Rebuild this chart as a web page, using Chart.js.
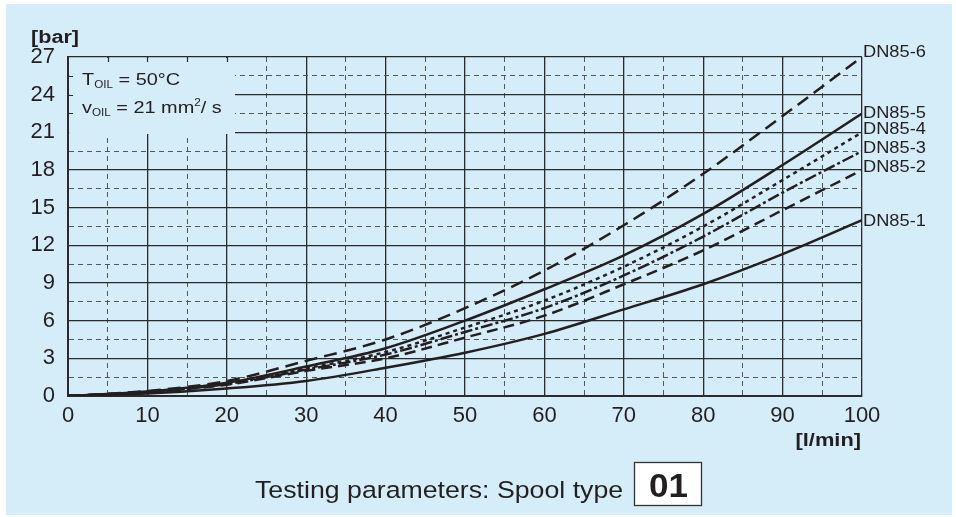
<!DOCTYPE html>
<html>
<head>
<meta charset="utf-8">
<script src="https://cdn.jsdelivr.net/npm/chart.js@4/dist/chart.umd.min.js"></script>
<style>
html,body{margin:0;padding:0;background:#fff;}
canvas{display:block;}
</style>
</head>
<body>
<canvas id="c" width="956" height="517"></canvas>
<script>
// ---- data ----
const flow = [0, 10, 20, 30, 40, 50, 60, 70, 80, 90, 100];          // [l/min]
const seriesNames = ["DN85-6", "DN85-5", "DN85-4", "DN85-3", "DN85-2", "DN85-1"];
const dn85_6 = [0, 0.4, 1.2, 2.8, 4.5, 7.0, 10.0, 13.6, 17.7, 22.3, 27.0];
const dn85_5 = [0, 0.35, 1.05, 2.35, 3.8, 6.0, 8.5, 11.2, 14.5, 18.4, 22.5];
const dn85_4 = [0, 0.33, 1.0, 2.2, 3.5, 5.45, 7.6, 10.3, 13.5, 17.2, 21.0];
const dn85_3 = [0, 0.32, 0.95, 2.1, 3.3, 5.1, 7.0, 9.6, 12.7, 16.2, 19.5];
const dn85_2 = [0, 0.3, 0.9, 2.0, 3.0, 4.65, 6.4, 8.9, 11.6, 14.8, 18.0];
const dn85_1 = [0, 0.2, 0.6, 1.2, 2.25, 3.45, 4.95, 6.9, 8.9, 11.3, 14.0];
const xTickLabels = ["0","10","20","30","40","50","60","70","80","90","100"];
const yTickLabels = ["0","3","6","9","12","15","18","21","24","27"];

// ---- styles ----
const INK = '#231f20';
const BG = '#d5ecf9';
const FONT = '"Liberation Sans", Arial, Helvetica, sans-serif';
const dashes = [[13, 7], [], [4, 4], [12, 3, 3, 3], [11, 6], []];
const labelNudge = [-4.5, 0, -2.5, -3, -2.5, 1];
const allSeries = [dn85_6, dn85_5, dn85_4, dn85_3, dn85_2, dn85_1];

function isMajorX(v){ return Math.abs(v % 10) < 1e-6; }
function isMajorY(v){ return Math.abs(v/3 - Math.round(v/3)) < 1e-6; }

function drawRuns(ctx, x, y, parts, sx, weight){
  let cx = x;
  ctx.fillStyle = INK;
  ctx.textBaseline = 'alphabetic';
  ctx.textAlign = 'left';
  for (const p of parts){
    ctx.font = (weight||'normal') + ' ' + p[1] + 'px ' + FONT;
    ctx.save();
    ctx.translate(cx, y + (p[2]||0));
    ctx.scale(sx, 1);
    ctx.fillText(p[0], 0, 0);
    ctx.restore();
    cx += ctx.measureText(p[0]).width * sx;
  }
}
function drawText(ctx, str, x, y, size, weight, align, sx, baseline){
  ctx.font = (weight||'normal') + ' ' + size + 'px ' + FONT;
  const w = ctx.measureText(str).width * sx;
  let x0 = x;
  if (align === 'right') x0 = x - w; else if (align === 'center') x0 = x - w/2;
  ctx.save();
  ctx.fillStyle = INK;
  ctx.textAlign = 'left';
  ctx.textBaseline = baseline || 'alphabetic';
  ctx.translate(x0, y);
  ctx.scale(sx, 1);
  ctx.fillText(str, 0, 0);
  ctx.restore();
}

const decor = {
  id: 'decor',
  beforeDraw(chart){
    const ctx = chart.ctx;
    ctx.save();
    ctx.fillStyle = '#ffffff';
    ctx.fillRect(0, 0, chart.width, chart.height);
    ctx.fillStyle = BG;
    ctx.fillRect(6, 4, 946, 511);
    ctx.restore();
  },
  beforeDatasetsDraw(chart){
    const ctx = chart.ctx;
    const xs = chart.scales.x, ys = chart.scales.y;
    const L = chart.chartArea.left, T = chart.chartArea.top;
    const boxR = 235, boxB = 134;
    ctx.save();
    ctx.fillStyle = BG;
    ctx.fillRect(L + 1.2, T + 1, boxR - L - 1.2, boxB - T - 1);
    // small ticks that remain along the frame
    ctx.strokeStyle = '#2b2b2b';
    ctx.lineWidth = 1.2;
    ctx.beginPath();
    for (const v of [5, 10, 15, 20]) {
      const px = Math.round(xs.getPixelForValue(v)) + 0.5;
      ctx.moveTo(px, T); ctx.lineTo(px, T + 5);
    }
    for (const v of [25.5, 24, 22.5]) {
      const py = Math.round(ys.getPixelForValue(v)) + 0.5;
      ctx.moveTo(L, py); ctx.lineTo(L + 5, py);
    }
    ctx.stroke();
    ctx.restore();
    // inset text
    drawRuns(ctx, 82, 84.5, [['T',17,0],['OIL',10,3],[' = 50°C',17,0]], 1.17);
    drawRuns(ctx, 82, 112.5, [['v',17,0],['OIL',10,3],[' = 21 mm',17,0],['2',10,-7],['/ s',17,0]], 1.17);
  },
  afterDraw(chart){
    const ctx = chart.ctx;
    const ys = chart.scales.y;
    const R = chart.chartArea.right;
    // series end labels
    allSeries.forEach((s, i) => {
      const py = ys.getPixelForValue(s[s.length-1]) + labelNudge[i];
      drawText(ctx, seriesNames[i], R + 1, py, 16, 'normal', 'left', 1.14, 'middle');
    });
    // axis units
    drawText(ctx, '[bar]', 31, 42.5, 18, 'bold', 'left', 1.2);
    drawText(ctx, '[l/min]', 861, 446, 19, 'bold', 'right', 1.15);
    // bottom caption
    drawText(ctx, 'Testing parameters: Spool type', 255, 498, 24.5, 'normal', 'left', 1.09);
    ctx.save();
    ctx.fillStyle = '#ffffff';
    ctx.fillRect(634.5, 462.5, 67, 43);
    ctx.strokeStyle = '#333333';
    ctx.lineWidth = 1.3;
    ctx.strokeRect(634.5, 462.5, 67, 43);
    ctx.restore();
    drawText(ctx, '01', 668.5, 497, 34, 'bold', 'center', 1.03);
  }
};

const datasets = allSeries.map((s, i) => ({
  label: seriesNames[i],
  data: flow.map((f, k) => ({x: f, y: s[k]})),
  borderColor: INK,
  borderWidth: 2.5,
  borderDash: dashes[i],
  pointRadius: 0,
  fill: false,
  cubicInterpolationMode: 'monotone'
}));

new Chart(document.getElementById('c'), {
  type: 'line',
  data: { datasets },
  options: {
    responsive: false,
    animation: false,
    events: [],
    layout: { padding: { left: 0, top: 57, right: 94, bottom: 0 } },
    plugins: { legend: { display: false }, tooltip: { enabled: false } },
    scales: {
      x: {
        type: 'linear', min: 0, max: 100,
        afterFit(scale){ scale.height = 121; },
        ticks: {
          stepSize: 5, autoSkip: false, maxRotation: 0, padding: 7,
          color: INK, font: { family: FONT, size: 22 },
          callback(v){ return isMajorX(v) ? xTickLabels[Math.round(v/10)] : ''; }
        },
        grid: {
          drawTicks: false,
          color: c => (c.tick && !isMajorX(c.tick.value)) ? '#555555' : '#2b2b2b',
          lineWidth: c => (c.tick && !isMajorX(c.tick.value)) ? 1 : 1.3
        },
        border: {
          display: true, color: '#2b2b2b', width: 2,
          dash: c => (c.tick && !isMajorX(c.tick.value)) ? [5, 4] : []
        }
      },
      y: {
        type: 'linear', min: 0, max: 27,
        afterFit(scale){ scale.width = 68; },
        ticks: {
          stepSize: 1.5, autoSkip: false, padding: 13,
          color: INK, font: { family: FONT, size: 22 },
          callback(v){ return isMajorY(v) ? yTickLabels[Math.round(v/3)] : ''; }
        },
        grid: {
          drawTicks: false,
          color: c => (c.tick && !isMajorY(c.tick.value)) ? '#555555' : '#2b2b2b',
          lineWidth: c => (c.tick && !isMajorY(c.tick.value)) ? 1 : 1.3
        },
        border: {
          display: true, color: '#2b2b2b', width: 2,
          dash: c => (c.tick && !isMajorY(c.tick.value)) ? [5, 4] : []
        }
      }
    }
  },
  plugins: [decor]
});
</script>
</body>
</html>
